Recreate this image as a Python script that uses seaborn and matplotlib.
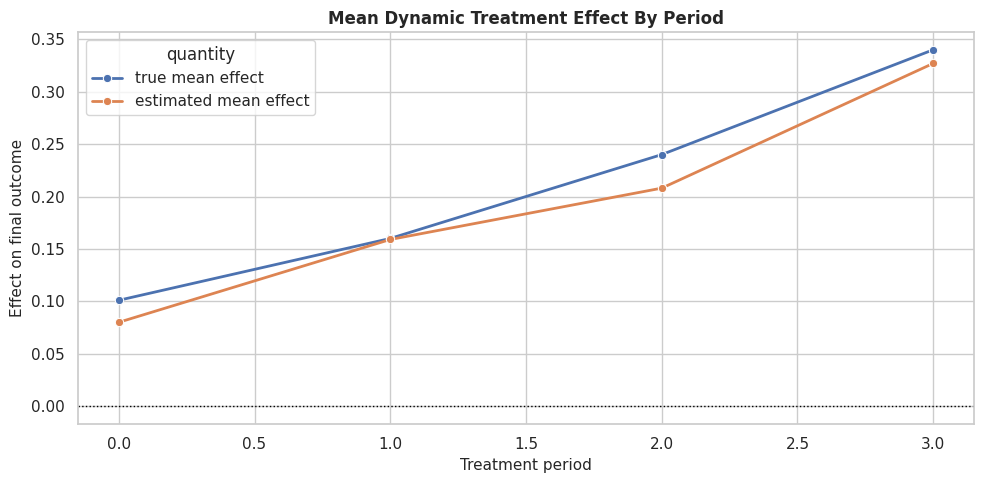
import pandas as pd
import matplotlib
matplotlib.use('Agg')
import matplotlib.pyplot as plt
import seaborn as sns

# Values
periods = [0, 1, 2, 3]
true_effect = [0.101, 0.160, 0.240, 0.340]
estimated_effect = [0.080, 0.159, 0.208, 0.327]

df = pd.DataFrame({
    'period': periods * 2,
    'effect': true_effect + estimated_effect,
    'quantity': ['true mean effect'] * 4 + ['estimated mean effect'] * 4,
})

sns.set_theme(style='whitegrid')

fig = plt.figure(figsize=(9.84, 4.84), dpi=100)
ax = sns.lineplot(data=df, x='period', y='effect', hue='quantity',
                  marker='o', linewidth=2)
ax.axhline(0, color='black', linestyle=':', linewidth=1)
ax.set_title('Mean Dynamic Treatment Effect By Period', fontweight='bold')
ax.set_xlabel('Treatment period', fontsize=11)
ax.set_ylabel('Effect on final outcome', fontsize=11)
fig.subplots_adjust(left=0.0793, right=0.9898, top=0.934, bottom=0.124)
plt.savefig('out.png', dpi=100)
